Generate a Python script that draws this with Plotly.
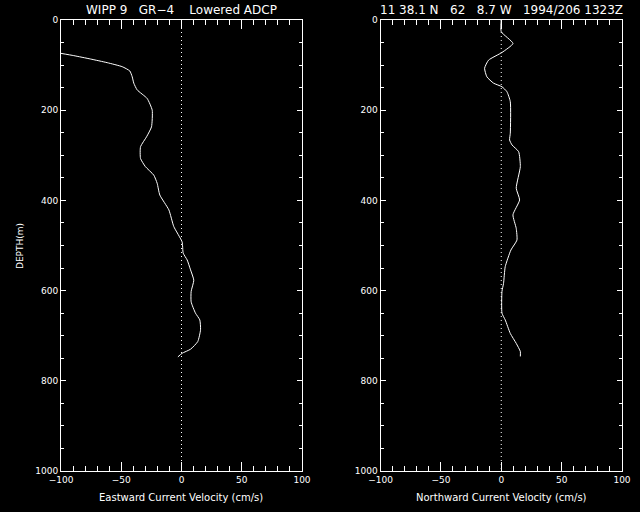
import plotly.graph_objects as go

# ---- data ----
east_depth = [74, 79, 86.5, 94.6, 103.5, 113, 126, 140, 155, 174, 200, 237, 259, 281, 307, 325,
              344, 362, 388, 421, 458, 492, 517, 532, 554, 577, 602, 625, 650, 665, 687, 713,
              730, 739, 747]
east_vel = [-100, -89.4, -75.5, -61.7, -49.2, -42.9, -40.9, -39.6, -36.8, -28.5, -24.3, -24.9,
            -29, -34, -34, -30, -23, -20.2, -18, -10.5, -6.4, 0.5, 1.4, 4.7, 7.5, 10.2, 8, 8,
            11.6, 15.2, 15.8, 13.5, 7.5, 0.5, -3]

north_depth = [0, 26, 52, 72, 89, 107, 126, 140, 148, 159, 181, 251, 266, 277, 292, 325, 373,
               399, 432, 462, 488, 510, 547, 584, 602, 650, 665, 695, 717, 735, 746]
north_vel = [0, 0, 9.7, 0.6, -10.5, -13.8, -11.9, -6.4, 0.6, 4.7, 7.5, 7.5, 6.9, 8.9, 14.4,
             15.8, 12.4, 15.2, 9.7, 12.4, 13, 8, 3.3, 1.9, 0.6, 0.6, 3.3, 7.5, 12.4, 15.8, 15.8]

zero_x = [0, 0]
zero_depth = [0, 1000]

x_ticks = [-100, -50, 0, 50, 100]
y_ticks = [0, 200, 400, 600, 800, 1000]

title_left = "WIPP 9   GR\u22124    Lowered ADCP"
title_right = "11 38.1 N   62   8.7 W   1994/206 1323Z"
xlabel_left = "Eastward Current Velocity (cm/s)"
xlabel_right = "Northward Current Velocity (cm/s)"
ylabel = "DEPTH(m)"

FONT = "DejaVu Sans"
W = "#ffffff"

fig = go.Figure()
for xa, ya, vel, dep in [("x", "y", east_vel, east_depth), ("x2", "y2", north_vel, north_depth)]:
    fig.add_trace(go.Scatter(x=zero_x, y=zero_depth, xaxis=xa, yaxis=ya, mode="lines",
                             line=dict(color=W, width=1, dash="1px,3px"), hoverinfo="skip"))
    fig.add_trace(go.Scatter(x=vel, y=dep, xaxis=xa, yaxis=ya, mode="lines",
                             line=dict(color=W, width=1, shape="spline", smoothing=0.5)))

def xax(domain, anchor):
    return dict(domain=domain, anchor=anchor, range=[-100, 100], tickvals=x_ticks,
                ticks="inside", ticklen=9, tickwidth=1, tickcolor=W,
                minor=dict(tickvals=list(range(-100, 101, 10)), ticks="inside", ticklen=5,
                           tickwidth=1, tickcolor=W, showgrid=False),
                showline=True, linecolor=W, linewidth=1, mirror="allticks",
                showgrid=False, zeroline=False, automargin=False,
                tickfont=dict(family=FONT, size=9, color=W))

def yax(domain, anchor):
    return dict(domain=domain, anchor=anchor, range=[1000, 0], tickvals=y_ticks,
                ticks="inside", ticklen=5, tickwidth=1, tickcolor=W,
                minor=dict(tickvals=list(range(0, 1001, 50)), ticks="inside", ticklen=3,
                           tickwidth=1, tickcolor=W, showgrid=False),
                showline=True, linecolor=W, linewidth=1, mirror="allticks",
                showgrid=False, zeroline=False, automargin=False,
                tickfont=dict(family=FONT, size=9, color=W))

ydom = [1 - 471 / 512, 1 - 20 / 512]
fig.update_layout(
    width=640, height=512, margin=dict(l=0, r=0, t=0, b=0, pad=0),
    paper_bgcolor="black", plot_bgcolor="black", showlegend=False,
    xaxis=xax([61 / 640, 302 / 640], "y"),
    yaxis=yax(ydom, "x"),
    xaxis2=xax([380.5 / 640, 622 / 640], "y2"),
    yaxis2=yax(ydom, "x2"),
)

def ann(text, x, y, size, angle=0):
    fig.add_annotation(text=text.replace(" ", "\u00a0"), x=x / 640, y=1 - y / 512,
                       xref="paper", yref="paper", showarrow=False, textangle=angle,
                       xanchor="center", yanchor="middle",
                       font=dict(family=FONT, size=size, color=W))

ann(title_left, 181, 10, 12)
ann(title_right, 501, 10, 12)
ann(xlabel_left, 181, 497, 10)
ann(xlabel_right, 501, 497, 10)
ann(ylabel, 20, 246, 9, angle=-90)

fig.write_html("out.html", config={"displayModeBar": False},
               post_script="document.body.style.margin='0';document.body.style.background='black';")
